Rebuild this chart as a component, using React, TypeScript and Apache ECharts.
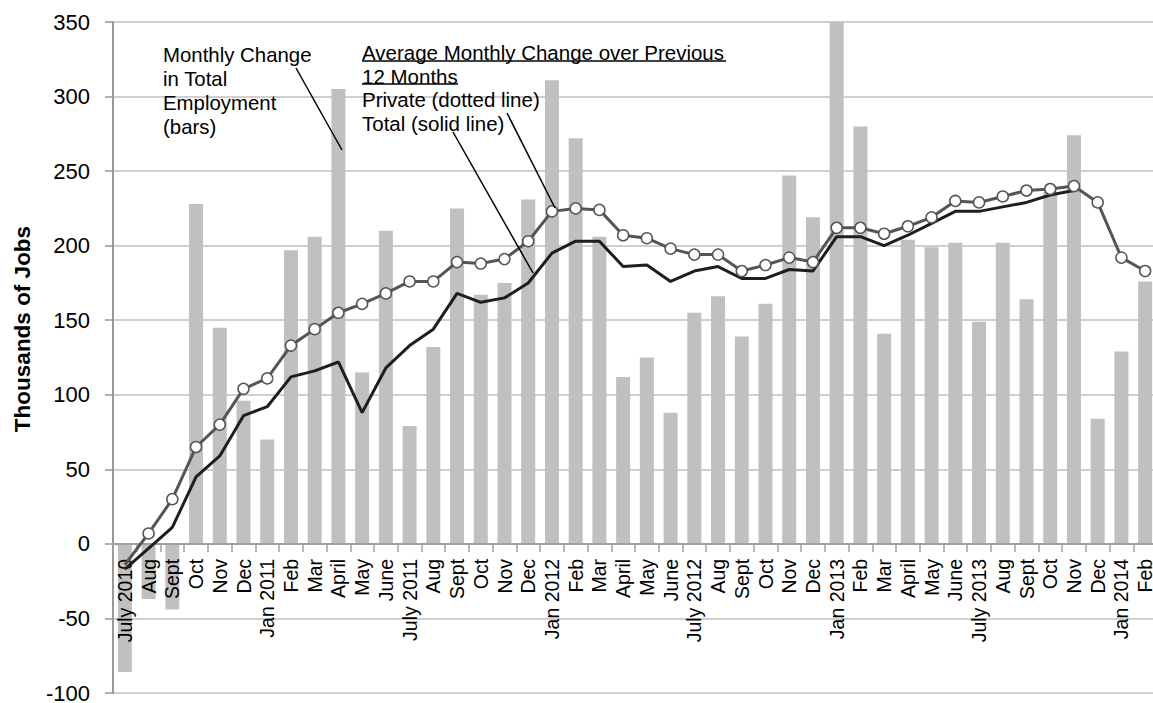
import React, { useEffect, useRef } from "react";
import * as echarts from "echarts";

const categories = [
  "July 2010", "Aug", "Sept", "Oct", "Nov", "Dec",
  "Jan 2011", "Feb", "Mar", "April", "May", "June", "July 2011", "Aug", "Sept", "Oct", "Nov", "Dec",
  "Jan 2012", "Feb", "Mar", "April", "May", "June", "July 2012", "Aug", "Sept", "Oct", "Nov", "Dec",
  "Jan 2013", "Feb", "Mar", "April", "May", "June", "July 2013", "Aug", "Sept", "Oct", "Nov", "Dec",
  "Jan 2014", "Feb",
];

const monthlyChange = [
  -86, -37, -44, 228, 145, 96,
  70, 197, 206, 305, 115, 210, 79, 132, 225, 167, 175, 231,
  311, 272, 206, 112, 125, 88, 155, 166, 139, 161, 247, 219,
  360, 280, 141, 204, 199, 202, 149, 202, 164, 236, 274, 84,
  129, 176,
];

const privateAvg = [
  -14, 7, 30, 65, 80, 104,
  111, 133, 144, 155, 161, 168, 176, 176, 189, 188, 191, 203,
  223, 225, 224, 207, 205, 198, 194, 194, 183, 187, 192, 189,
  212, 212, 208, 213, 219, 230, 229, 233, 237, 238, 240, 229,
  192, 183,
];

const totalAvg = [
  -17, -3, 11, 45, 59, 86,
  92, 112, 116, 122, 88, 118, 133, 144, 168, 162, 165, 175,
  195, 203, 203, 186, 187, 176, 183, 186, 178, 178, 184, 183,
  206, 206, 200, 207, 215, 223, 223, 226, 229, 234, 237, null,
  null, null,
];

const FONT = "'Liberation Sans', Arial, sans-serif";
const Y_MIN = -100;
const Y_MAX = 350;
const GRID_TOP = 22;
const GRID_BOTTOM = 10;
const HEIGHT = 703;

export default function App() {
  const ref = useRef<HTMLDivElement>(null);

  useEffect(() => {
    document.body.style.margin = "0";
    const chart = echarts.init(ref.current!, null, { renderer: "svg" });
    const plotH = HEIGHT - GRID_TOP - GRID_BOTTOM;
    const zeroOffset = -(plotH * (0 - Y_MIN)) / (Y_MAX - Y_MIN);
    const option = {
      animation: false,
      backgroundColor: "#ffffff",
      grid: {
        left: 113,
        right: -4,
        top: GRID_TOP,
        bottom: GRID_BOTTOM,
        containLabel: false,
        outerBoundsMode: "none",
      },
      xAxis: {
        type: "category",
        data: categories,
        z: 3,
        position: "bottom",
        offset: zeroOffset,
        axisLine: { onZero: false, lineStyle: { color: "#a0a0a0", width: 2 } },
        axisTick: { show: true, length: 8, lineStyle: { color: "#a0a0a0", width: 1.5 } },
        axisLabel: {
          interval: 0,
          rotate: 90,
          margin: 15,
          color: "#000",
          fontSize: 19.5,
          fontFamily: FONT,
        },
        splitLine: { show: false },
      },
      yAxis: {
        type: "value",
        min: Y_MIN,
        max: Y_MAX,
        interval: 50,
        axisLine: { show: true, onZero: false, lineStyle: { color: "#999", width: 2 } },
        axisTick: { show: true, length: 8, lineStyle: { color: "#999", width: 1.5 } },
        axisLabel: { margin: 23, fontSize: 22, color: "#000", fontFamily: FONT },
        splitLine: { show: true, lineStyle: { color: "#cfcfcf", width: 2 } },
      },
      series: [
        {
          type: "bar",
          data: monthlyChange,
          barWidth: 14,
          clip: true,
          z: 2,
          itemStyle: { color: "#c0c0c0" },
        },
        {
          type: "line",
          data: totalAvg,
          z: 4,
          symbol: "none",
          lineStyle: { color: "#1e1e1e", width: 3 },
        },
        {
          type: "line",
          data: privateAvg.map((v, i) => (i === 0 ? { value: v, symbol: "none" } : v)),
          z: 5,
          symbol: "circle",
          symbolSize: 11,
          lineStyle: { color: "#555555", width: 3 },
          itemStyle: { color: "#ffffff", borderColor: "#555555", borderWidth: 1.5 },
        },
      ],
      graphic: [
        {
          type: "text",
          x: 22,
          y: 329,
          rotation: Math.PI / 2,
          z: 10,
          style: {
            text: "Thousands of Jobs",
            fontSize: 22.5,
            fontWeight: "bold",
            fontFamily: FONT,
            fill: "#000",
            align: "center",
            verticalAlign: "middle",
          },
        },
        {
          type: "text",
          x: 163,
          y: 43,
          z: 10,
          style: {
            text: "Monthly Change\nin Total\nEmployment\n(bars)",
            fontSize: 20.4,
            fontFamily: FONT,
            lineHeight: 24,
            fill: "#000",
            verticalAlign: "top",
          },
        },
        {
          type: "text",
          x: 362,
          y: 41,
          z: 10,
          style: {
            text: "Average Monthly Change over Previous\n12 Months\nPrivate (dotted line)\nTotal (solid line)",
            fontSize: 20.5,
            fontFamily: FONT,
            lineHeight: 23.5,
            fill: "#000",
            verticalAlign: "top",
          },
        },
        { type: "line", z: 10, shape: { x1: 362, y1: 61, x2: 726, y2: 61 }, style: { stroke: "#000", lineWidth: 1.5 } },
        { type: "line", z: 10, shape: { x1: 362, y1: 84, x2: 458, y2: 84 }, style: { stroke: "#000", lineWidth: 1.5 } },
        { type: "line", z: 10, shape: { x1: 296, y1: 68, x2: 342, y2: 150 }, style: { stroke: "#000", lineWidth: 1.5 } },
        { type: "line", z: 10, shape: { x1: 507, y1: 113, x2: 555, y2: 208 }, style: { stroke: "#000", lineWidth: 1.5 } },
        { type: "line", z: 10, shape: { x1: 453, y1: 132, x2: 533, y2: 273 }, style: { stroke: "#000", lineWidth: 1.5 } },
      ],
    };
    chart.setOption(option as any);
    return () => chart.dispose();
  }, []);

  return (
    <div
      ref={ref}
      style={{ position: "absolute", left: 0, top: 0, width: 1153, height: 703 }}
    />
  );
}
